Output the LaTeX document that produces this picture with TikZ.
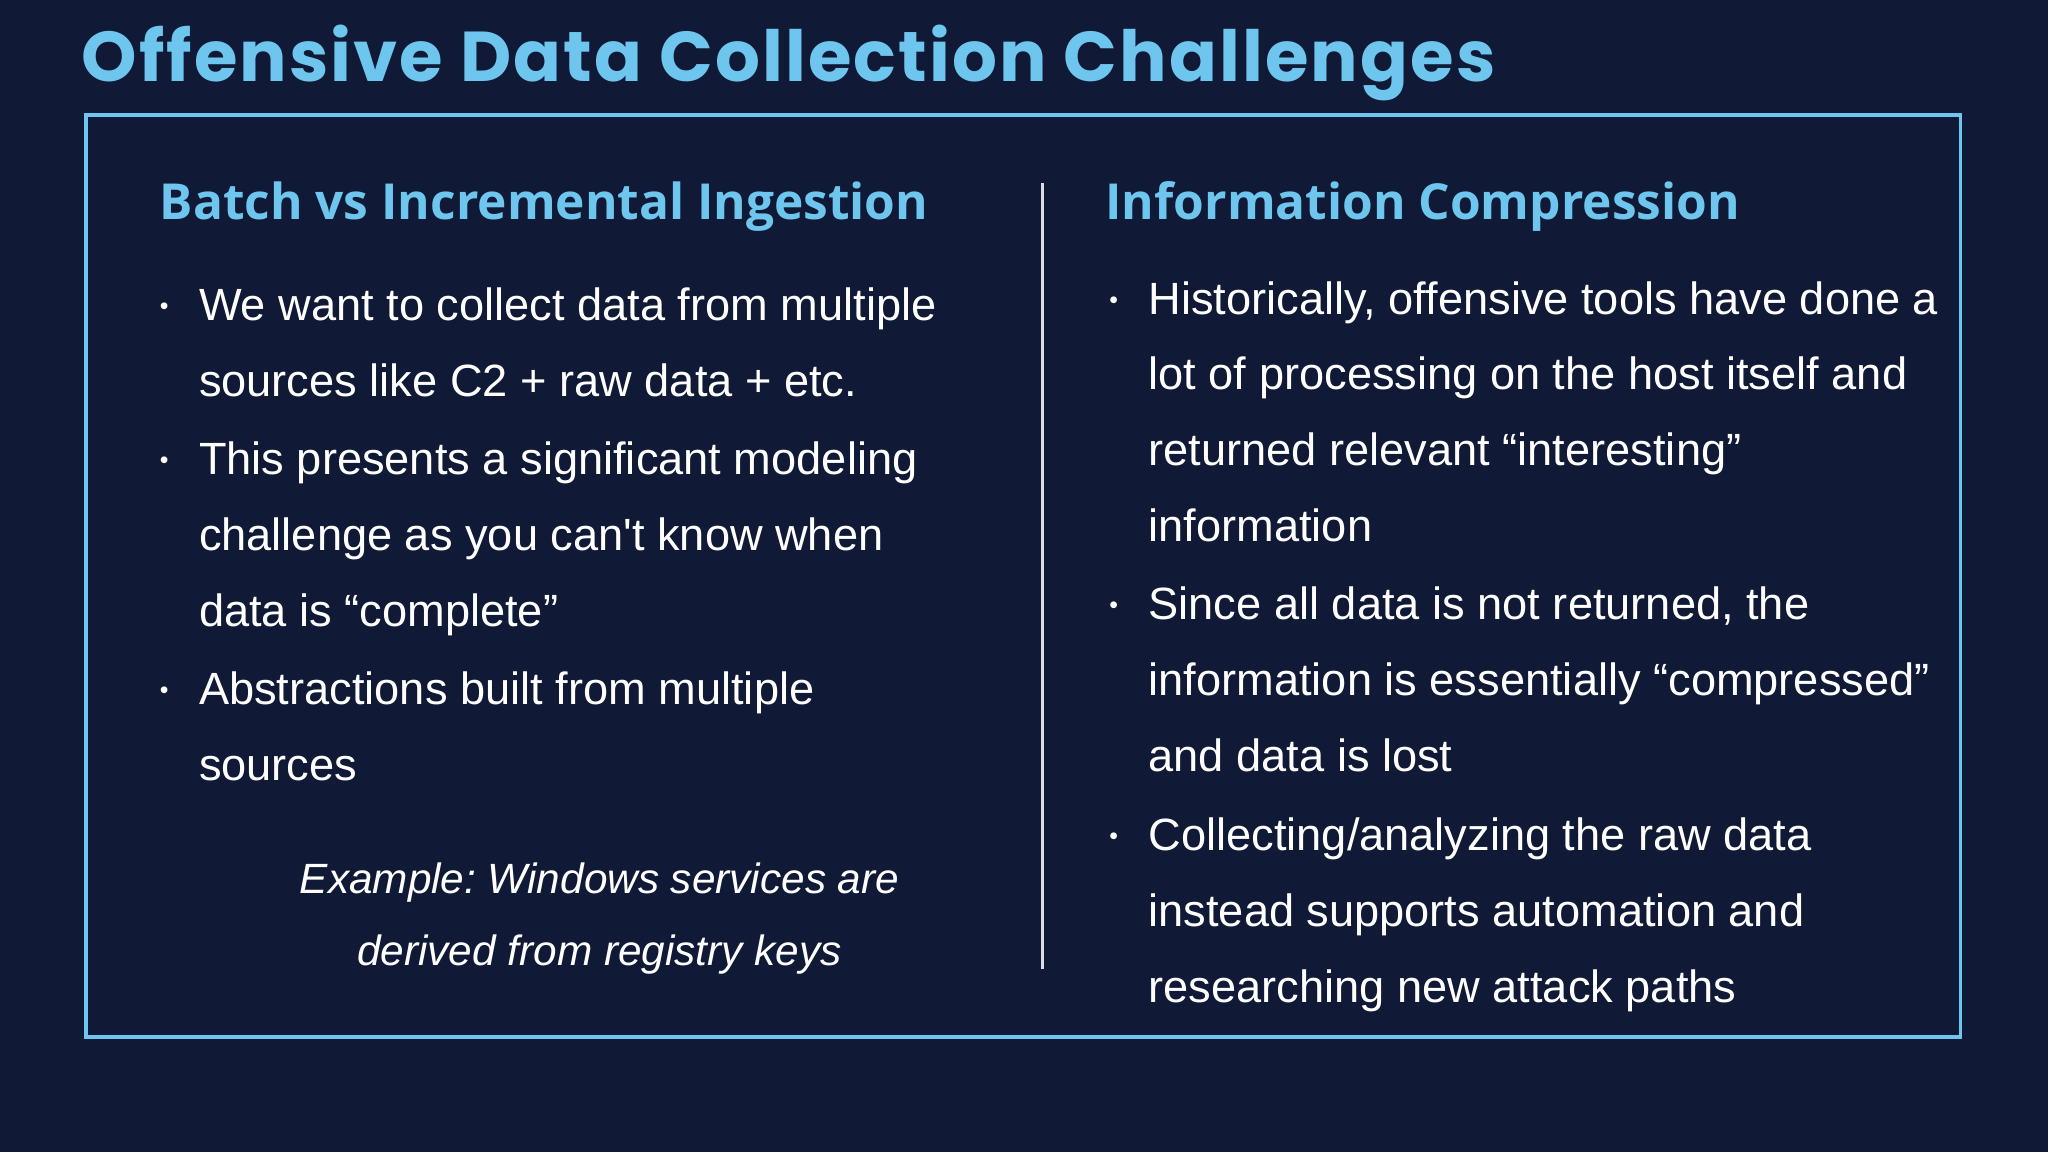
\documentclass[tikz,border=0pt]{standalone}
\usepackage{fontspec}
\setmainfont{Liberation Sans}
\newfontfamily\titlefont{Poppins}
\newfontfamily\headfont{Open Sans}
\definecolor{bg}{HTML}{101A36}
\definecolor{acc}{HTML}{6EC6EE}
\newcommand{\bul}{\makebox[17pt][l]{\hspace{2pt}\raisebox{0.25ex}{\scalebox{0.55}{\textbullet}}}}
\begin{document}
\frenchspacing
\begin{tikzpicture}[x=0.5pt,y=-0.5pt,
  body/.style={anchor=north west,text=white,font=\fontsize{17.3}{29}\selectfont,align=left,inner sep=0},
  head/.style={anchor=west,text=acc,font=\headfont\bfseries\fontsize{19}{22}\selectfont,inner sep=0}]
\fill[bg] (0,0) rectangle (1568,882);
\useasboundingbox (0,0) rectangle (1568,882);
\node[anchor=west,text=acc,inner sep=0,font=\titlefont\bfseries\fontsize{27}{34}\selectfont\addfontfeature{LetterSpace=3}] (title) at (62,48) {Offensive Data Collection Challenges};
\draw[acc,line width=1.5pt] (66,88) rectangle (1501,794);
\draw[white!85!bg,line width=1.2pt] (798,140) -- (798,742);
\node[head] (h1) at (122,158) {Batch vs Incremental Ingestion};
\node[head] (h2) at (846,158) {Information Compression};
\node[body] (l1) at (118,220) {\bul\parbox[t]{330pt}{\baselineskip=29pt We want to collect data from multiple\\sources like C2 + raw data + etc.}};
\node[body] (l2) at (118,338) {\bul\parbox[t]{330pt}{\baselineskip=29pt This presents a significant modeling\\challenge as you can\textquotesingle t know when\\data is “complete”}};
\node[body] (l3) at (118,514) {\bul\parbox[t]{330pt}{\baselineskip=29pt Abstractions built from multiple\\sources}};
\node[text=white,align=center,inner sep=0,font=\fontsize{16.2}{27.5}\selectfont\itshape] (ex) at (459,703) {Example: Windows services are\\derived from registry keys};
\node[body] (r1) at (845,215) {\bul\parbox[t]{340pt}{\baselineskip=29pt Historically, offensive tools have done a\\lot of processing on the host itself and\\returned relevant “interesting”\\information}};
\node[body] (r2) at (845,449) {\bul\parbox[t]{340pt}{\baselineskip=29pt Since all data is not returned, the\\information is essentially “compressed”\\and data is lost}};
\node[body] (r3) at (845,626) {\bul\parbox[t]{340pt}{\baselineskip=29pt Collecting/analyzing the raw data\\instead supports automation and\\researching new attack paths}};
\end{tikzpicture}
\end{document}
